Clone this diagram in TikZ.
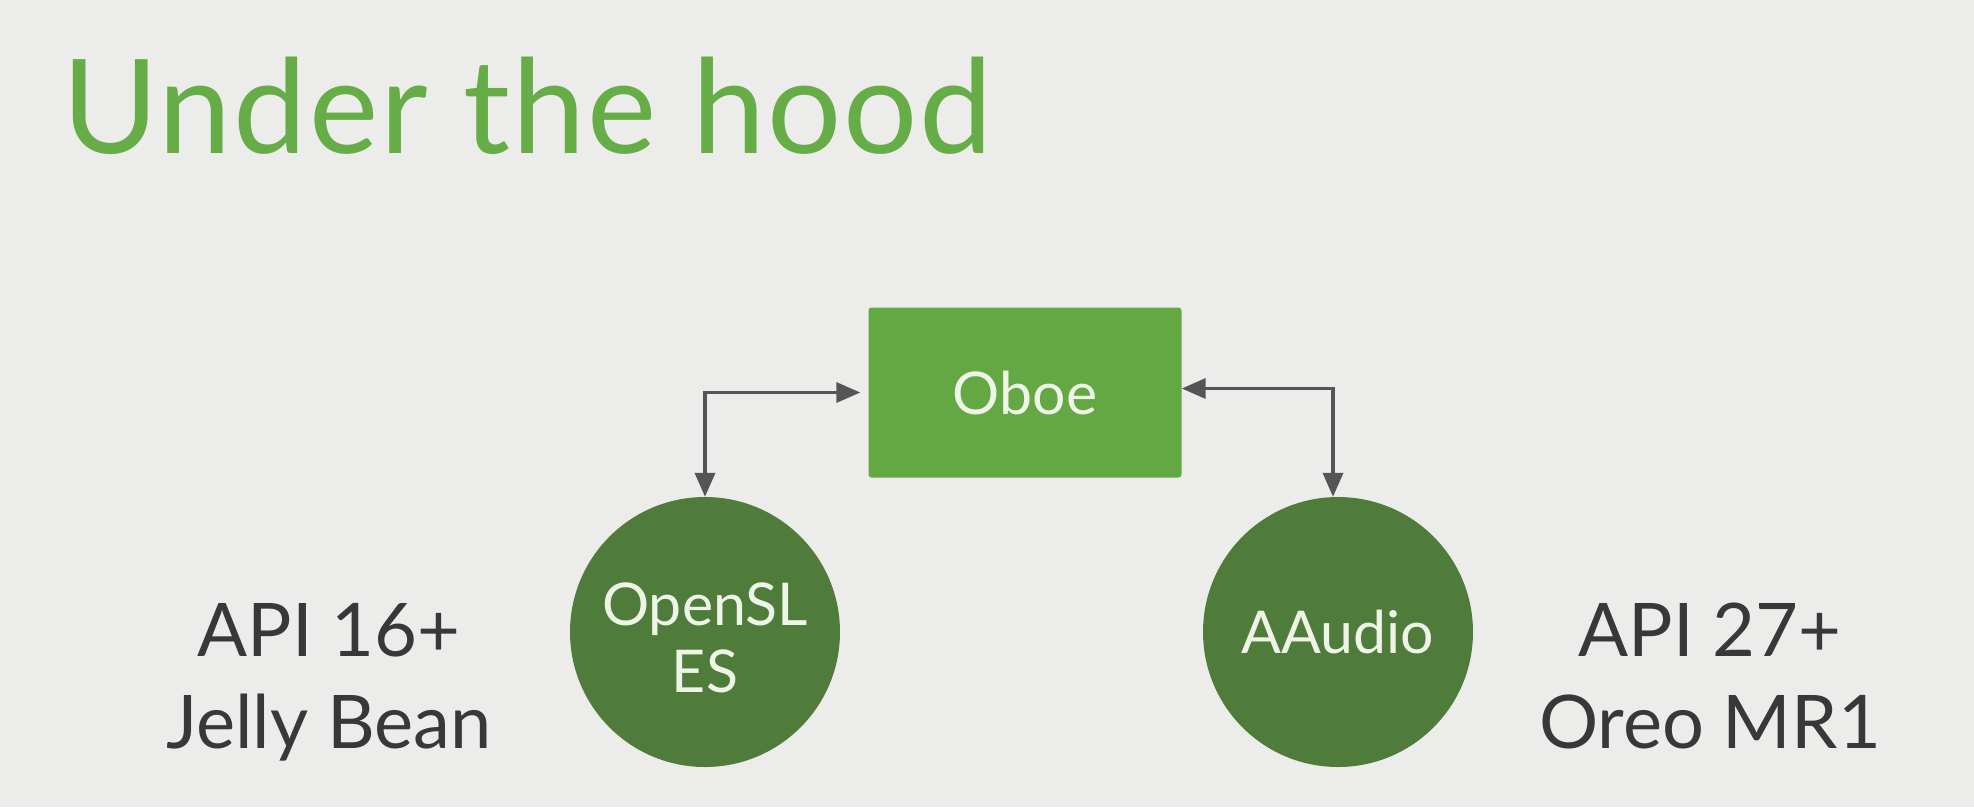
\documentclass[tikz,border=0pt]{standalone}
\usepackage{fontspec}
\setmainfont{Lato}
\usetikzlibrary{arrows.meta}
\definecolor{bg}{HTML}{ECEDEB}
\definecolor{titlegreen}{HTML}{66AD47}
\definecolor{boxgreen}{HTML}{63A843}
\definecolor{circgreen}{HTML}{4F7C3B}
\definecolor{lighttext}{HTML}{EEF4E6}
\definecolor{darktext}{HTML}{383838}
\definecolor{arrowgray}{HTML}{555555}
\tikzset{
  x=1pt, y=-1pt,
  boxstyle/.style={draw=none, fill=boxgreen, rounded corners=3pt, minimum width=313pt, minimum height=170pt, inner sep=0pt},
  circstyle/.style={circle, draw=none, fill=circgreen, minimum size=270pt, inner sep=0pt},
  intext/.style={text=lighttext, font=\fontsize{59}{59}\selectfont, inner sep=0pt, anchor=base},
  sidetext/.style={text=darktext, font=\fontsize{74}{74}\selectfont, inner sep=0pt, anchor=base},
  conn/.style={draw=arrowgray, line width=3.5pt, {Triangle[length=24pt,width=20pt]}-{Triangle[length=24pt,width=20pt]}},
}
\begin{document}
\begin{tikzpicture}
\fill[bg] (0,0) rectangle (1974,807);
\useasboundingbox (0,0) rectangle (1974,807);
\node[anchor=base west, inner sep=0pt, text=titlegreen, font=\fontsize{131}{131}\selectfont\addfontfeature{LetterSpace=1.5}] (title) at (62,153) {Under the hood};
\node[boxstyle] (oboe) at (1025,392.5) {};
\node[intext] (oboelbl) at (1025,414) {Oboe};
\node[circstyle] (opensl) at (705,632) {};
\node[circstyle] (aaudio) at (1338,632) {};
\node[intext] (opensl1) at (705,625) {OpenSL};
\node[intext] (opensl2) at (705,692) {ES};
\node[intext] (aaudiolbl) at (1338,653) {AAudio};
\node[sidetext] (left1) at (329,656) {API 16+};
\node[sidetext] (left2) at (329,748) {Jelly Bean};
\node[sidetext] (right1) at (1710,656) {API 27+};
\node[sidetext] (right2) at (1710,748) {Oreo MR1};
\draw[conn, shorten >=8pt] (opensl.north) |- (oboe.west);
\draw[conn] ([xshift=-5pt]aaudio.north) |- ([yshift=4pt]oboe.east);
\end{tikzpicture}
\end{document}
